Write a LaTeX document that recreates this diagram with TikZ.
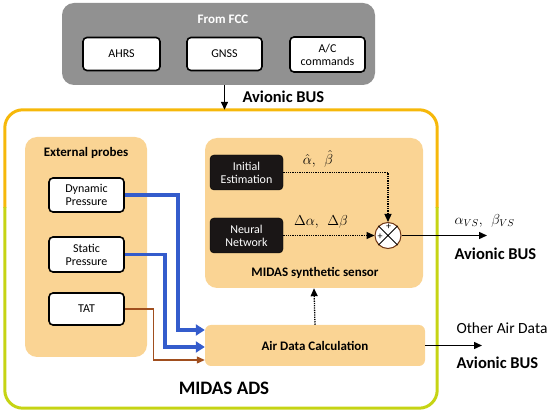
\documentclass[tikz,border=0pt]{standalone}
\usepackage{fontspec}
\setmainfont{Carlito}
\usetikzlibrary{arrows.meta}
\definecolor{fccgray}{RGB}{145,145,145}
\definecolor{panel}{RGB}{250,212,148}
\definecolor{adsorange}{RGB}{246,184,10}
\definecolor{adslime}{RGB}{198,212,20}
\definecolor{probeblue}{RGB}{52,92,204}
\definecolor{tatbrown}{RGB}{160,78,30}
\definecolor{darkbox}{RGB}{26,22,22}
\begin{document}
\begin{tikzpicture}[x=1pt, y=-1pt, >={Triangle[length=8pt,width=7pt]}, font=\fontsize{12}{13}\selectfont]
        \tikzset{whitebox/.style={draw, line width=1.6pt, rounded corners=4pt, fill=white, align=center, inner sep=1pt},
                 blackbox/.style={draw=black, fill=darkbox, rounded corners=4pt, text=white, align=center, minimum width=73pt, minimum height=35pt, inner sep=1pt},
                 panelbox/.style={fill=panel, rounded corners=12pt, inner sep=0pt},
                 bluearrow/.style={draw=probeblue, line width=3.4pt, -{Triangle[length=9pt,width=11pt]}},
                 dotarrow/.style={densely dotted, line width=1.3pt, ->},
                 busarrow/.style={line width=1.4pt, ->},
                 title/.style={font=\fontsize{13}{15}\selectfont\bfseries},
                 mathlabel/.style={font=\fontsize{14}{16}\selectfont},
                 bus/.style={font=\fontsize{16.5}{18}\selectfont\bfseries, anchor=west}}
        \useasboundingbox (0,0) rectangle (550,414);
        % flight control computer
        \node[fill=fccgray, rounded corners=12pt, minimum width=313pt, minimum height=82pt] (fcc) at (218.5,44) {};
        \node[title, text=white] (fcctitle) at (223,19) {From FCC};
        \node[whitebox, minimum width=77pt, minimum height=33pt] (ahrs) at (121.5,54) {AHRS};
        \node[whitebox, minimum width=75pt, minimum height=33pt] (gnss) at (224.5,54) {GNSS};
        \node[whitebox, minimum width=75pt, minimum height=35pt] (accmd) at (327.5,54.5) {A/C\\commands};
        % MIDAS ADS frame
        \node[minimum width=432pt, minimum height=298pt, inner sep=0pt] (ads) at (221,259) {};
        \begin{scope}
            \clip (0,0) rectangle (550,208);
            \draw[adsorange, line width=3pt, rounded corners=18pt] (ads.north west) rectangle (ads.south east);
        \end{scope}
        \begin{scope}
            \clip (0,208) rectangle (550,414);
            \draw[adslime, line width=3pt, rounded corners=18pt] (ads.north west) rectangle (ads.south east);
        \end{scope}
        \draw[busarrow] (gnss.south |- fcc.south) -- (gnss.south |- ads.north);
        \node[bus] (bustop) at (239,97) {Avionic BUS};
        \node[font=\fontsize{19}{22}\selectfont\bfseries] (adstitle) at (224,388) {MIDAS ADS};
        % external probes
        \node[panelbox, minimum width=122pt, minimum height=220pt] (probes) at (86,247) {};
        \node[title] (probestitle) at (86,153) {External probes};
        \node[whitebox, minimum width=75pt, minimum height=34pt] (dyn) at (86.5,195) {Dynamic\\Pressure};
        \node[whitebox, minimum width=75pt, minimum height=35pt] (stat) at (86.5,254.5) {Static\\Pressure};
        \node[whitebox, minimum width=75pt, minimum height=32pt] (tat) at (86.5,309) {TAT};
        % synthetic sensor
        \node[panelbox, minimum width=218pt, minimum height=150pt] (synth) at (314,213) {};
        \node[title] (synthtitle) at (315,273) {MIDAS synthetic sensor};
        \node[blackbox] (init) at (246.5,172.5) {Initial\\Estimation};
        \node[blackbox] (nn) at (246.5,235.5) {Neural\\Network};
        \node[circle, draw=tatbrown!70!black, fill=white, line width=1pt, minimum size=26pt, inner sep=0pt] (sum) at (388,235.5) {};
        \draw[line width=0.9pt] (sum.north west) -- (sum.south east) (sum.north east) -- (sum.south west);
        \node[font=\fontsize{10}{10}\selectfont, inner sep=0pt] (plustop) at (388.5,227) {+};
        \node[font=\fontsize{10}{10}\selectfont, inner sep=0pt] (plusleft) at (380,237) {+};
        \draw[dotarrow] (init.east) -| (sum.north);
        \draw[dotarrow] (nn.east) -- (sum.west);
        \node[mathlabel] (hatlabel) at (318,159) {$\hat{\alpha},\ \ \hat{\beta}$};
        \node[mathlabel] (deltalabel) at (321,222) {$\Delta\alpha,\ \ \Delta\beta$};
        \coordinate (vsout) at (487,235.5);
        \draw[busarrow] (sum.east) -- (vsout);
        \node[mathlabel, anchor=west] (vslabel) at (451,221) {$\alpha_{VS},\ \ \beta_{VS}$};
        \node[bus] (busvs) at (451,254) {Avionic BUS};
        % air data calculation
        \node[panelbox, rounded corners=6pt, minimum width=220pt, minimum height=41pt, title] (adc) at (315,345.5) {Air Data Calculation};
        \draw[dotarrow] (adc.north) -- (synth.south);
        \coordinate (adcout) at (482,345.5);
        \draw[busarrow] (adc.east) -- (adcout);
        \node[font=\fontsize{15.5}{17}\selectfont, anchor=west] (otherdata) at (453,328) {Other Air Data};
        \node[bus] (busadc) at (453,363) {Avionic BUS};
        % probe lines
        \draw[bluearrow] (dyn.east) -- ++(53,0) |- ([yshift=15.5pt]adc.west);
        \draw[bluearrow] (stat.east) -- ++(40,0) |- ([yshift=-1.5pt]adc.west);
        \draw[tatbrown, line width=1.1pt, ->] (tat.east) -- ++(29,0) |- ([yshift=-14.5pt]adc.west);
\end{tikzpicture}
\end{document}
